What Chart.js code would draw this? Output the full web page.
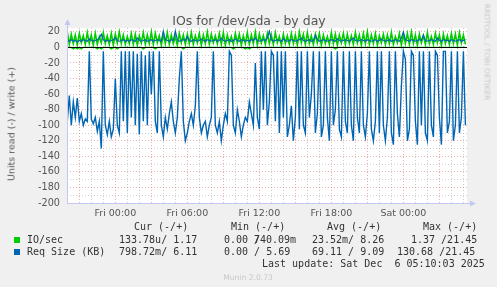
<!DOCTYPE html>
<html>
<head>
<meta charset="utf-8">
<script src="https://cdn.jsdelivr.net/npm/chart.js@4.4.1/dist/chart.umd.min.js"></script>
<style>
html,body{margin:0;padding:0;background:#f0f0f0;}
#wrap{position:relative;width:497px;height:287px;overflow:hidden;background:#f0f0f0;}
#c{position:absolute;left:0;top:0;}
.m{position:absolute;white-space:pre;font-family:"DejaVu Sans Mono",monospace;font-size:10px;line-height:12px;color:#333;}
.s{position:absolute;width:6px;height:6px;}
#title{position:absolute;left:249px;top:20px;transform:translate(-50%,-50%);white-space:nowrap;font-family:"DejaVu Sans",sans-serif;font-size:12.5px;color:#555;}
#ylab{position:absolute;left:11px;top:124px;transform:translate(-50%,-50%) rotate(-90deg);white-space:nowrap;font-family:"DejaVu Sans",sans-serif;font-size:9.5px;color:#555;}
#rrd{position:absolute;left:487px;top:52px;transform:translate(-50%,-50%) rotate(90deg);white-space:nowrap;font-family:"DejaVu Sans",sans-serif;font-size:7.5px;color:#c8c8c8;}
#munin{position:absolute;left:248px;top:277px;transform:translate(-50%,-50%);white-space:nowrap;font-family:"DejaVu Sans",sans-serif;font-size:7.6px;color:#c8c8c8;}
</style>
</head>
<body>
<div id="wrap">
  <canvas id="c" width="497" height="287"></canvas>
  <div id="title">IOs for /dev/sda - by day</div>
  <div id="ylab">Units read (-) / write (+)</div>
  <div id="rrd">RRDTOOL / TOBI OETIKER</div>
  <div id="munin">Munin 2.0.73</div>
  <div id="legend"></div>
</div>
<script>
// hours relative to Fri 00:00, one sample every 10 minutes
const startHour = -4.0;
const stepHour = 1 / 6;
const xMin = -4.025, xMax = 29.3;
const hourLabels = {0: "Fri 00:00", 6: "Fri 06:00", 12: "Fri 12:00", 18: "Fri 18:00", 24: "Sat 00:00"};

// IO/sec write (+)
const writeIO = [
  20,4,17,5,16,3,18,6,15,4, 19,5,16,3,18,4,14,6,19,5,
  15,4,18,3,17,6,20,5,16,4, 14,5,18,4,17,3,15,6,19,4,
  16,5,20,4,18,6,15,3,17,5, 19,4,16,5,14,3,18,6,16,4,
  17,5,19,4,15,6,18,3,16,5, 20,4,17,6,15,5,18,4,19,3,
  16,5,14,4,18,6,17,3,15,5, 19,4,16,5,20,3,17,6,15,4,
  18,5,16,4,19,6,14,3,17,5, 15,4,18,5,16,3,20,6,17,4,
  19,5,15,4,17,6,18,3,16,5, 14,4,19,5,17,3,16,6,18,4,
  17,5,15,4,19,6,16,3,18,5, 20,4,16,5,18,3,15,6,17,4,
  16,5,19,4,14,6,18,3,17,5, 18,4,20,5,16,3,17,6,15,4,
  19,5,14,4,18,6,16,3,17,5, 15,4,18,5,17,3,19,6,16,4
];
// IO/sec read (-)
const readIO = [
  0,0,0,2,0,2,0,2,0,0, 0,0,0,0,0,2,0,2,0,0,
  0,0,2,0,0,2,0,0,0,0, 0,0,0,0,0,0,0,0,2,0,
  0,0,0,0,2,0,0,0,0,0, 0,0,0,0,0,0,0,0,2,0,
  0,0,0,0,0,0,0,0,0,0, 0,0,0,0,0,0,0,0,0,0,
  0,0,0,2,0,0,0,0,0,2, 0,2,0,0,0,0,0,0,0,0,
  0,0,0,0,0,0,0,0,0,0, 0,0,0,0,0,0,0,0,0,0,
  0,0,0,0,0,0,0,0,0,0, 0,0,0,0,2,0,0,0,0,0,
  0,0,0,0,0,0,0,0,0,0, 0,0,0,0,0,0,0,0,0,0,
  0,0,0,0,0,0,0,0,0,0, 0,0,0,0,0,0,0,0,0,0,
  0,0,0,0,0,0,0,0,0,0, 0,0,0,0,0,0,0,0,0,0
];
// Req Size (KB) write (+)
const writeReq = [
  9,8,10,8,9,7,9,8,10,9, 8,11,9,8,9,10,12,17,10,8,
  9,8,9,10,12,9,8,9,10,8, 9,8,10,9,8,12,9,8,9,10,
  8,9,10,8,9,10,9,8,21,10, 9,8,10,9,21,10,8,9,10,9,
  14,9,8,10,9,8,9,11,9,8, 10,9,8,9,10,8,9,12,9,8,
  9,10,8,9,11,9,8,10,9,8, 9,8,10,9,12,9,8,9,10,9,
  12,21,10,8,9,10,9,8,11,9, 8,9,10,9,8,9,10,12,9,8,
  9,10,8,9,16,10,8,9,10,9, 8,9,10,9,8,11,9,8,9,10,
  9,8,10,12,9,8,9,10,9,8, 10,9,8,9,10,8,9,11,9,8,
  9,10,8,9,10,9,8,12,20,10, 9,8,10,9,8,9,10,9,16,9,
  8,9,10,9,8,12,9,8,10,9, 9,8,10,9,8,9,10,8,9,10
];
// Req Size (KB) read (-)
const readReq = [
  95,62,100,70,90,65,95,85,100,92, 95,5,92,98,90,108,95,130,5,100,
  112,95,115,105,40,100,110,5,95,5, 110,5,90,5,100,8,112,5,95,10,
  100,5,60,5,95,110,5,100,115,90, 105,85,70,95,110,90,40,5,95,120,
  110,95,85,100,75,5,90,110,100,95, 115,100,90,5,100,110,95,120,100,85,
  95,5,10,100,110,80,95,115,100,90, 95,70,85,100,20,90,105,5,80,5,
  100,70,5,10,95,5,110,5,90,5, 115,100,75,120,90,5,105,5,100,110,
  5,90,60,5,110,85,5,115,100,5, 90,120,5,100,80,5,105,115,5,95,
  110,5,100,120,5,90,110,5,100,115, 85,5,105,120,95,5,110,5,100,120,
  90,5,110,125,5,85,115,50,5,15, 120,105,5,10,95,125,5,100,5,110,
  120,5,100,115,5,10,90,125,5,5, 110,95,5,120,100,5,110,90,5,100
];

const seriesNames = ["IO/sec", "Req Size (KB)"];
const seriesColors = ["#00cc00", "#0066b3"];
const curText = ["133.78u/ 1.17", "798.72m/ 6.11"];
const minText = [["0.00 /", "740.09m"], ["0.00 / 5.69", ""]];
const avgText = ["23.52m/ 8.26", "69.11 / 9.09"];
const maxText = ["1.37 /21.45", "130.68 /21.45"];
const lastUpdate = "Last update: Sat Dec  6 05:10:03 2025";

function pts(values, sign){
  return values.map((v, i) => ({x: startHour + i * stepHour, y: sign * v}));
}

function buildLegend(){
  const box = document.getElementById("legend");
  const add = (text, left, cy) => {
    if(!text) return;
    const d = document.createElement("div");
    d.className = "m";
    d.textContent = text;
    d.style.left = left + "px";
    d.style.top = (cy - 6) + "px";
    box.appendChild(d);
  };
  add("Cur (-/+)", 134, 227);
  add("Min (-/+)", 231, 227);
  add("Avg (-/+)", 327, 227);
  add("Max (-/+)", 423, 227);
  const rows = [240, 252];
  const maxLeft = [411, 397];
  rows.forEach((cy, i) => {
    const sq = document.createElement("div");
    sq.className = "s";
    sq.style.left = "14px";
    sq.style.top = (cy - 3) + "px";
    sq.style.background = seriesColors[i];
    box.appendChild(sq);
    add(seriesNames[i], 27, cy);
    add(curText[i], 119, cy);
    add(minText[i][0], 224, cy);
    add(minText[i][1], 254, cy);
    add(avgText[i], 312, cy);
    add(maxText[i], maxLeft[i], cy);
  });
  add(lastUpdate, 262, 263.5);
}

const frame = {
  id: "frame",
  beforeDraw(chart){
    const {ctx, chartArea: a} = chart;
    ctx.save();
    ctx.fillStyle = "#fff";
    ctx.fillRect(a.left, a.top, a.right - a.left, a.bottom - a.top);
    ctx.restore();
  },
  afterDatasetsDraw(chart){
    const {ctx, chartArea: a} = chart;
    const y0 = Math.round(chart.scales.y.getPixelForValue(0)) + 0.5;
    ctx.save();
    ctx.strokeStyle = "#000";
    ctx.lineWidth = 1;
    ctx.beginPath();
    ctx.moveTo(a.left, y0);
    ctx.lineTo(a.right, y0);
    ctx.stroke();
    // rrdtool style axis lines with arrows
    const ax = Math.round(a.left) + 0.5, ay = Math.round(a.bottom) + 0.5;
    ctx.strokeStyle = "#c4c8f0";
    ctx.fillStyle = "#c4c8f0";
    ctx.beginPath();
    ctx.moveTo(ax, ay);
    ctx.lineTo(ax, a.top - 4);
    ctx.moveTo(ax, ay);
    ctx.lineTo(a.right + 4, ay);
    ctx.stroke();
    ctx.beginPath();
    ctx.moveTo(ax - 3, a.top - 3);
    ctx.lineTo(ax + 3, a.top - 3);
    ctx.lineTo(ax, a.top - 9);
    ctx.closePath();
    ctx.fill();
    ctx.beginPath();
    ctx.moveTo(a.right + 3, ay - 3);
    ctx.lineTo(a.right + 3, ay + 3);
    ctx.lineTo(a.right + 9, ay);
    ctx.closePath();
    ctx.fill();
    ctx.restore();
  }
};

const line = (data, color, w) => ({
  data, borderColor: color, borderWidth: w, pointRadius: 0, tension: 0, fill: false
});

new Chart(document.getElementById("c"), {
  type: "line",
  data: {
    datasets: [
      line(pts(writeReq, 1), "#0066b3", 1.2),
      line(pts(readReq, -1), "#0066b3", 1.4),
      line(pts(writeIO, 1), "#00cc00", 1.6),
      line(pts(readIO, -1), "#00cc00", 1.2)
    ]
  },
  options: {
    responsive: false,
    animation: false,
    parsing: false,
    layout: {padding: {left: 0, top: 28, right: 30, bottom: 0}},
    plugins: {legend: {display: false}, tooltip: {enabled: false}, title: {display: false}},
    scales: {
      x: {
        type: "linear",
        min: xMin, max: xMax,
        afterFit: s => { s.height = 84; },
        ticks: {
          stepSize: 1, includeBounds: false, autoSkip: false, maxRotation: 0, padding: 5,
          color: "#555", font: {family: "DejaVu Sans", size: 9.5},
          callback: v => hourLabels[v] || ""
        },
        grid: {
          drawTicks: false,
          color: c => (((c.tick.value % 3) + 3) % 3 === 0) ? "rgba(225,120,120,0.6)" : "rgba(170,170,170,0.55)"
        },
        border: {display: false, dash: [1, 2]}
      },
      y: {
        min: -200, max: 25,
        afterFit: s => { s.width = 67; },
        ticks: {
          stepSize: 10, includeBounds: false, autoSkip: false, padding: 7,
          color: "#555", font: {family: "DejaVu Sans", size: 9.7},
          callback: v => v % 20 === 0 ? String(v) : ""
        },
        grid: {
          drawTicks: false,
          color: c => c.tick.value % 20 === 0 ? "rgba(225,120,120,0.6)" : "rgba(170,170,170,0.55)"
        },
        border: {display: false, dash: [1, 2]}
      }
    }
  },
  plugins: [frame]
});

buildLegend();
</script>
</body>
</html>
